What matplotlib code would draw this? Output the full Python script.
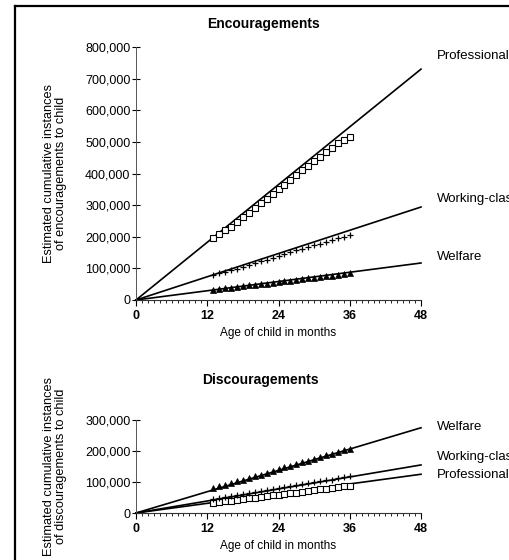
import matplotlib
matplotlib.use("Agg")
import matplotlib.pyplot as plt
from matplotlib.lines import Line2D
from matplotlib.ticker import FuncFormatter, MultipleLocator

plt.rcParams['font.family'] = ['Liberation Sans', 'DejaVu Sans']

months = list(range(13, 37))
groups = ["Professional", "Working-class", "Welfare"]

# Encouragements (cumulative, thousands)
enc_prof = [195, 210, 220, 232, 246, 262, 276, 291, 306, 320, 335, 350,
            365, 380, 395, 410, 424, 438, 452, 467, 482, 496, 506, 515]
enc_work = [79, 84, 89, 94, 99, 105, 111, 117, 122, 128, 134, 140,
            146, 151, 157, 162, 167, 173, 178, 184, 189, 195, 200, 206]
enc_welf = [32, 34, 37, 39, 41, 43, 46, 48, 50, 52, 55, 57,
            59, 61, 64, 66, 68, 70, 73, 75, 77, 79, 82, 84]
enc_fit48 = [730, 294, 117]          # fitted line value at 48 months
enc_label_y = [772, 320, 136]

# Discouragements (cumulative, thousands)
dis_prof = [33, 35, 38, 40, 43, 45, 47, 50, 52, 55, 57, 59,
            62, 64, 66, 69, 71, 74, 76, 78, 81, 83, 86, 88]
dis_work = [46, 49, 52, 55, 59, 62, 65, 68, 71, 74, 77, 80,
            84, 87, 90, 93, 96, 99, 102, 105, 108, 112, 115, 118]
dis_welf = [80, 86, 91, 97, 102, 108, 113, 119, 124, 130, 136, 141,
            147, 152, 158, 163, 169, 174, 180, 186, 191, 197, 202, 208]
dis_fit48 = [125, 155, 275]
dis_label_y = [123, 181, 277]

xticks = [0, 12, 24, 36, 48]

fig = plt.figure(figsize=(5.1, 5.6), dpi=100)

# frame (left and top edges visible)
fig.add_artist(Line2D([15.5/510, 15.5/510], [0, 1-6/560], transform=fig.transFigure,
                      color='black', lw=1.6))
fig.add_artist(Line2D([15/510, 1], [1-6/560, 1-6/560], transform=fig.transFigure,
                      color='black', lw=1.6))

ax1 = fig.add_axes([136/510, 1-300/560, 285/510, 253/560])
ax2 = fig.add_axes([136/510, 1-513/560, 285/510, 93/560])

marker_styles = [dict(marker='s', ms=3.8, mfc='white', mec='black', mew=0.8),
                 dict(marker='+', ms=5, mec='black', mew=0.9),
                 dict(marker='^', ms=3.8, mfc='black', mec='black', mew=0.5)]

def fmt(v, pos):
    return "0" if v == 0 else f"{int(v):,}"

def style(ax, ymax, ystep, ylabel):
    for s in ['top', 'right']:
        ax.spines[s].set_visible(False)
    ax.spines['left'].set_color('#555555')
    ax.spines['left'].set_linewidth(0.7)
    ax.spines['bottom'].set_color('#333333')
    ax.spines['bottom'].set_linewidth(0.8)
    ax.set_xlim(0, 48)
    ax.set_ylim(0, ymax)
    ax.set_xticks(xticks)
    ax.xaxis.set_minor_locator(MultipleLocator(1))
    ax.yaxis.set_major_locator(MultipleLocator(ystep))
    ax.yaxis.set_major_formatter(FuncFormatter(fmt))
    ax.tick_params(axis='x', which='major', direction='out', length=4, width=0.8,
                   labelsize=9, pad=3)
    ax.tick_params(axis='x', which='minor', direction='out', length=2.5, width=0.6)
    ax.tick_params(axis='y', which='major', direction='inout', length=6, width=0.8,
                   labelsize=9, pad=1)
    for lab in ax.get_xticklabels():
        lab.set_fontweight('bold')
    ax.set_xlabel("Age of child in months", fontsize=8.5, labelpad=4)
    ax.set_ylabel(ylabel, fontsize=9.2, labelpad=13, linespacing=1.0)

series1 = [enc_prof, enc_work, enc_welf]
for i, g in enumerate(groups):
    ax1.plot([0, 48], [0, enc_fit48[i]*1000], color='black', lw=1.2, clip_on=False)
    ax1.plot(months, [v*1000 for v in series1[i]], ls='none', clip_on=False,
             **marker_styles[i])
    ax1.text(50.7, enc_label_y[i]*1000, g, fontsize=9.5, va='center', ha='left',
             clip_on=False)
style(ax1, 800000, 100000,
      "Estimated cumulative instances\nof encouragements to child")

series2 = [dis_prof, dis_work, dis_welf]
for i, g in enumerate(groups):
    ax2.plot([0, 48], [0, dis_fit48[i]*1000], color='black', lw=1.2, clip_on=False)
    ax2.plot(months, [v*1000 for v in series2[i]], ls='none', clip_on=False,
             **marker_styles[i])
    ax2.text(50.7, dis_label_y[i]*1000, g, fontsize=9.5, va='center', ha='left',
             clip_on=False)
style(ax2, 300000, 100000,
      "Estimated cumulative instances\nof discouragements to child")

fig.text(263/510, 1-24/560, "Encouragements", fontsize=10, fontweight='bold',
         ha='center', va='center')
fig.text(260/510, 1-380/560, "Discouragements", fontsize=10, fontweight='bold',
         ha='center', va='center')

fig.savefig("out.png", dpi=100)
